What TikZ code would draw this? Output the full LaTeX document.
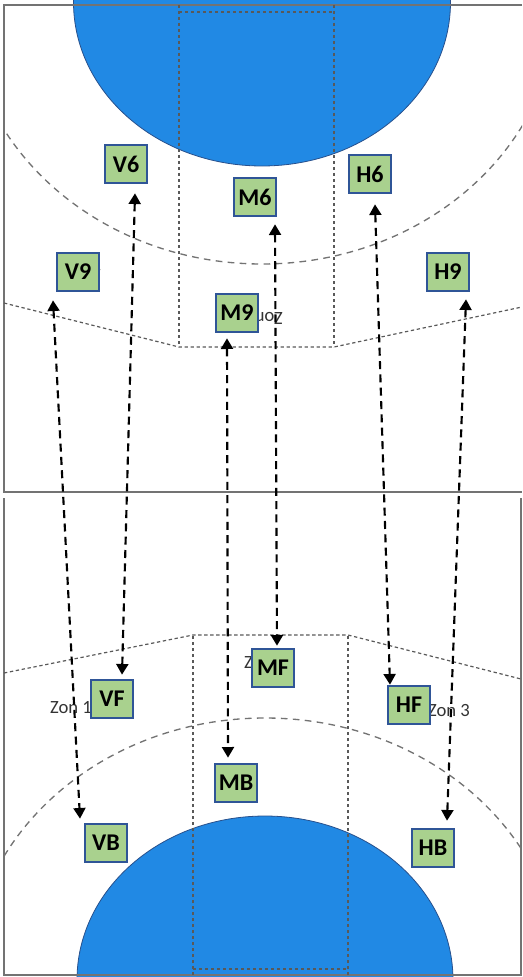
\documentclass[tikz,border=0pt]{standalone}
\usepackage{fontspec}
\setmainfont{Carlito}
\usetikzlibrary{arrows.meta,calc}
\definecolor{goalblue}{RGB}{33,137,228}
\definecolor{goaledge}{RGB}{40,80,140}
\definecolor{boxfill}{RGB}{169,209,142}
\definecolor{boxedge}{RGB}{47,85,151}
\tikzset{
  court/.style={draw=black!55, line width=1.2pt},
  arcline/.style={draw=black!55, line width=1pt, dash pattern=on 5pt off 4pt},
  arealine/.style={draw=black!65, line width=0.9pt, dash pattern=on 2.5pt off 2pt},
  player/.style={draw=boxedge, fill=boxfill, line width=1.5pt, minimum width=31.5pt, minimum height=29pt, inner sep=0pt, font=\fontsize{18}{18}\selectfont\bfseries},
  zone/.style={font=\fontsize{14}{14}\selectfont, text=black!80, inner sep=0pt},
  move/.style={draw=black, line width=1.6pt, dash pattern=on 6pt off 4pt, {Triangle[width=9pt,length=8pt]}-{Triangle[width=9pt,length=8pt]}}
}
\begin{document}
\begin{tikzpicture}[x=0.75pt,y=-0.75pt]
\useasboundingbox (0,0) rectangle (522,977);
\begin{scope}
\clip (0,0) rectangle (522,977);
% goal areas (blue)
\fill[goalblue, draw=goaledge, line width=0.6pt] (262,2) ellipse [x radius=188.5, y radius=164];
\fill[goalblue, draw=goaledge, line width=0.6pt] (265,980) ellipse [x radius=188, y radius=164];
% court outlines
\draw[court] (522,5) -- (4,5) -- (4,492) -- (522,492);
\draw[court] (4,498) -- (4,975) -- (521,975) -- (521,498);
\end{scope}
% 9 m arcs
\begin{scope}
\clip (4,5) rectangle (522,492);
\draw[arcline] (262,0) ellipse [x radius=296, y radius=264];
\end{scope}
\begin{scope}
\clip (4,498) rectangle (521,975);
\draw[arcline] (265,980) ellipse [x radius=296, y radius=262];
\end{scope}
% zone lines top
\draw[arealine] (179,5) -- (179,347);
\draw[arealine] (334,5) -- (334,347);
\draw[arealine] (179,12) -- (334,12);
\draw[arealine] (4,303) -- (179,347) -- (334,347) -- (522,307);
% zone lines bottom
\draw[arealine] (193,975) -- (193,635);
\draw[arealine] (348,975) -- (348,635);
\draw[arealine] (193,969) -- (348,969);
\draw[arealine] (4,673) -- (193,635) -- (348,635) -- (521,679);
% zone labels
\node[zone, rotate=180] (z3t) at (80,275) {Zon 3};
\node[zone, rotate=180] (z2t) at (262,318) {Zon 2};
\node[zone, rotate=180] (z1t) at (449,275) {Zon 1};
\node[zone] (z1b) at (71,708) {Zon 1};
\node[zone] (z2b) at (265,662) {Zon 2};
\node[zone] (z3b) at (449,710) {Zon 3};
% players
\node[player] (V6) at (126,164) {V6};
\node[player] (M6) at (255,197) {M6};
\node[player] (H6) at (370,174) {H6};
\node[player] (V9) at (78,272) {V9};
\node[player] (M9) at (237,313) {M9};
\node[player] (H9) at (448,272) {H9};
\node[player] (VF) at (112,699) {VF};
\node[player] (MF) at (273,668) {MF};
\node[player] (HF) at (409,705) {HF};
\node[player] (MB) at (236,783) {MB};
\node[player] (VB) at (106,843) {VB};
\node[player] (HB) at (433,848) {HB};
% movements
\draw[move] ([shift={(9,9)}]V6.south) -- ([shift={(10,-4)}]VF.north);
\draw[move] ([shift={(-25,8)}]V9.south) -- ([shift={(-26,-4)}]VB.north);
\draw[move] ([shift={(-10,5)}]M9.south) -- ([shift={(-8,-5)}]MB.north);
\draw[move] ([shift={(20,7)}]M6.south) -- ([shift={(4,-2)}]MF.north);
\draw[move] ([shift={(5,10)}]H6.south) -- ([shift={(-19,0)}]HF.north);
\draw[move] ([shift={(18,7)}]H9.south) -- ([shift={(14,-7)}]HB.north);
\end{tikzpicture}
\end{document}
